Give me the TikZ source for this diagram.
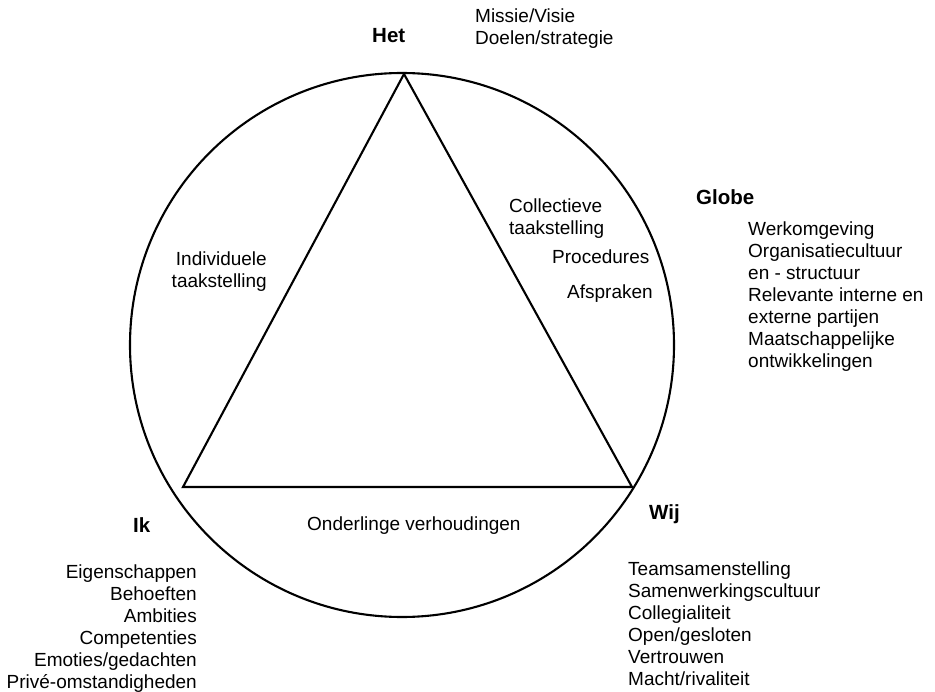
\documentclass[tikz,border=0pt]{standalone}
\usepackage{fontspec}
\setmainfont{Liberation Sans}

\begin{document}
\begin{tikzpicture}[x=1pt, y=-1pt,
  item/.style={inner sep=0pt, font=\fontsize{19}{22}\selectfont},
  head/.style={inner sep=0pt, font=\fontsize{20.5}{24}\selectfont\bfseries},
  ring/.style={line width=2.1pt}]
  \useasboundingbox (0,0) rectangle (935,692);
  % circle and triangle
  \coordinate (mid) at (402,345);
  \coordinate (het) at (404,74);
  \coordinate (ik) at (183,487);
  \coordinate (wij) at (632,487);
  \draw[ring] (mid) circle[radius=272pt];
  \draw[ring, line join=miter] (het) -- (ik) -- (wij) -- cycle;
  % corner headings
  \node[head, anchor=north west] (hetLabel) at (372,28) {Het};
  \node[head, anchor=north west] (ikLabel) at (133,517) {Ik};
  \node[head, anchor=north west] (wijLabel) at (649,504) {Wij};
  \node[head, anchor=north west] (globeLabel) at (696,189) {Globe};
  % lists
  \node[item, anchor=north west, align=left] (hetList) at (475,9) {Missie/Visie\\Doelen/strategie};
  \node[item, anchor=north west, align=left] (globeList) at (748,222)
    {Werkomgeving\\Organisatiecultuur\\en - structuur\\Relevante interne en\\externe partijen\\Maatschappelijke\\ontwikkelingen};
  \node[item, anchor=north east, align=right] (ikList) at (197,565)
    {Eigenschappen\\Behoeften\\Ambities\\Competenties\\Emoties/gedachten\\Privé-omstandigheden};
  \node[item, anchor=north west, align=left] (wijList) at (628,562)
    {Teamsamenstelling\\Samenwerkingscultuur\\Collegialiteit\\Open/gesloten\\Vertrouwen\\Macht/rivaliteit};
  % segment texts
  \node[item, anchor=north east, align=right] (indiv) at (267,252) {Individuele\\taakstelling};
  \node[item, anchor=north west, align=left] (collect) at (509,199) {Collectieve\\taakstelling};
  \node[item, anchor=north west] (proc) at (552,250) {Procedures};
  \node[item, anchor=north west] (afspr) at (567,285) {Afspraken};
  \node[item, anchor=north west] (onder) at (307,517) {Onderlinge verhoudingen};
\end{tikzpicture}
\end{document}
